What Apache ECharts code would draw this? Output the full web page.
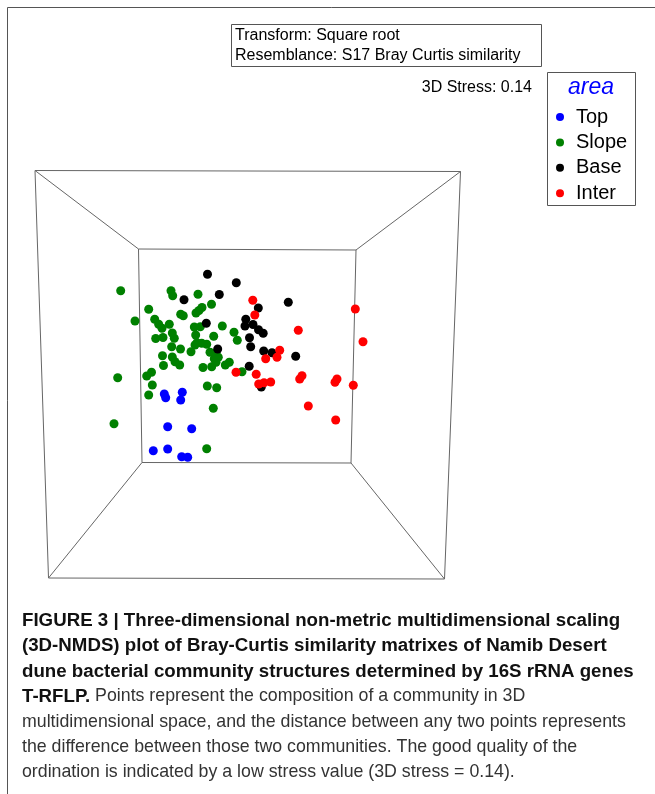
<!DOCTYPE html>
<html>
<head>
<meta charset="utf-8">
<script src="https://cdn.jsdelivr.net/npm/echarts@6/dist/echarts.min.js"></script>
<style>
html,body{margin:0;padding:0;background:#fff;}
#chart{width:655px;height:794px;}
</style>
</head>
<body>
<div id="chart"></div>
<script>
// ---- data (projected NMDS positions) ----
const categories = ['Top', 'Slope', 'Base', 'Inter'];
const colors = ['#0000ff', '#008000', '#000000', '#ff0000'];

const topPts = [[164.3,394],[165.7,397.7],[182.3,392.3],[180.7,400],[167.7,426.7],[191.7,428.7],[153.3,450.7],[167.7,449],[181.7,456.7],[187.7,457.3]];

const slopePts = [[120.7,290.7],[171,290.7],[172.7,295.7],[198,294.3],[211.5,304.3],[148.7,309.3],[135,321],
 [180.7,314.3],[183.3,315.7],[196,313],[199,310.5],[202,307.5],[154.7,319.3],[158.7,324.3],[162,328.3],
 [169.3,324.3],[194.3,327],[200.3,326.7],[222.3,326],[234,332.3],[237.3,340.3],[155.7,338.5],[163,337.5],
 [172.3,333],[174.3,338.3],[195.7,335],[197,342.7],[213.7,336.3],[171.7,346.7],[180.5,349],[191,351.7],
 [195,345],[201.7,343.3],[206.7,344.3],[210,352.3],[216,353],[218.3,357.3],[162.5,355.7],[172.3,357],[175,361.7],
 [179.7,365],[214.3,358.7],[216,362.3],[163.5,365.5],[203,367.5],[211.7,366.7],[225.3,365],[229.3,362.3],
 [242,371.7],[151.5,372.3],[146.7,376],[117.7,377.7],[152.3,385],[207.3,386],[216.7,387.7],[148.7,395],
 [213.3,408.3],[114,423.7],[206.7,448.7]];

const basePts = [[207.5,274.3],[236.3,282.7],[219.3,294.5],[184,299.7],[288.3,302.3],[258.3,308],[206.3,323.2],
 [245.8,319.3],[245,326],[253,324.5],[258.5,329.8],[263.2,333.2],[249.5,337.8],[250.7,346.8],[217.7,349],
 [263.7,351],[272,352.7],[295.7,356.3],[249.2,366.2],[261.3,387]];

const interPts = [[252.8,300.2],[254.8,315],[298.3,330.3],[355.3,309],[363,341.7],[279.7,350.3],[265.7,358.8],
 [277,357.3],[236,372.2],[256.2,374.2],[258.7,384],[264,382.7],[270.7,382],[299.7,379],[302,375.7],[335,382.3],
 [337,379],[353.3,385.3],[308.3,406],[335.7,420]];

// 3D bounding box corners (projection): TL, TR, BR, BL
const boxOuter = [[35,170.5],[460.5,171.5],[444.5,579],[48.5,578]];
const boxInner = [[138.5,249],[356,250],[351,463],[142,462.5]];

const annotLines = ['Transform: Square root', 'Resemblance: S17 Bray Curtis similarity'];
const stressLabel = '3D Stress: 0.14';
const legendTitle = 'area';

const captionBold = [
 'FIGURE 3 | Three-dimensional non-metric multidimensional scaling',
 '(3D-NMDS) plot of Bray-Curtis similarity matrixes of Namib Desert',
 'dune bacterial community structures determined by 16S rRNA genes'
];
const captionLead = 'T-RFLP.';
const captionRest = [
 ' Points represent the composition of a community in 3D',
 'multidimensional space, and the distance between any two points represents',
 'the difference between those two communities. The good quality of the',
 'ordination is indicated by a low stress value (3D stress = 0.14).'
];

// ---- layout helpers ----
const FONT = '"Liberation Sans", Arial, sans-serif';
const mctx = document.createElement('canvas').getContext('2d');
function fitSize(text, weight, target) {
  mctx.font = weight + ' 100px ' + FONT;
  return 100 * target / mctx.measureText(text).width;
}
const boldSize = fitSize(captionBold[0], 'bold', 599);
const regSize = fitSize(captionRest[1], 'normal', 604);

const chart = echarts.init(document.getElementById('chart'));

const series = [];
function seg(a, b) {
  series.push({type: 'line', data: [a, b], symbol: 'none', silent: true, z: 1,
    lineStyle: {color: '#666', width: 1}, animation: false});
}
for (let i = 0; i < 4; i++) {
  seg(boxOuter[i], boxOuter[(i + 1) % 4]);
  seg(boxInner[i], boxInner[(i + 1) % 4]);
  seg(boxOuter[i], boxInner[i]);
}
const ptsets = [topPts, slopePts, basePts, interPts];
categories.forEach((c, i) => {
  series.push({name: c, type: 'scatter', data: ptsets[i], symbolSize: 9, z: 3,
    itemStyle: {color: colors[i], opacity: 1}, animation: false});
});

const capX = 22, capY0 = 621, capStep = 25.2;
const graphics = [
  // outer figure frame
  {type: 'line', shape: {x1: 7.5, y1: 7.5, x2: 655, y2: 7.5}, style: {stroke: '#555', lineWidth: 1}},
  {type: 'line', shape: {x1: 7.5, y1: 7.5, x2: 7.5, y2: 794}, style: {stroke: '#555', lineWidth: 1}},
  // annotation box
  {type: 'rect', shape: {x: 231.5, y: 24.5, width: 310, height: 42}, style: {fill: '#fff', stroke: '#555', lineWidth: 1}},
  {type: 'text', x: 235, y: 36, style: {text: annotLines[0], font: '16px ' + FONT, fill: '#000', textVerticalAlign: 'middle'}},
  {type: 'text', x: 235, y: 55.5, style: {text: annotLines[1], font: '16px ' + FONT, fill: '#000', textVerticalAlign: 'middle'}},
  {type: 'text', x: 532, y: 88, style: {text: stressLabel, font: '16px ' + FONT, fill: '#000', textAlign: 'right', textVerticalAlign: 'middle'}},
  // legend frame + title
  {type: 'rect', shape: {x: 547.5, y: 72.5, width: 88, height: 133}, style: {fill: 'none', stroke: '#555', lineWidth: 1}},
  {type: 'text', x: 591, y: 88, style: {text: legendTitle, font: 'italic 23px ' + FONT, fill: '#0000ff', textAlign: 'center', textVerticalAlign: 'middle'}}
];
captionBold.forEach((t, i) => {
  graphics.push({type: 'text', x: capX, y: capY0 + capStep * i,
    style: {text: t, font: 'bold ' + boldSize.toFixed(2) + 'px ' + FONT, fill: '#111', textVerticalAlign: 'middle'}});
});
graphics.push({type: 'text', x: capX, y: capY0 + capStep * 3,
  style: {text: '{b|' + captionLead + '}{r|' + captionRest[0] + '}', textVerticalAlign: 'middle',
    rich: {b: {fontFamily: FONT, fontWeight: 'bold', fontSize: boldSize, fill: '#111'},
           r: {fontFamily: FONT, fontSize: regSize, fill: '#333'}}}});
for (let i = 1; i < captionRest.length; i++) {
  graphics.push({type: 'text', x: capX, y: capY0 + capStep * (3 + i),
    style: {text: captionRest[i], font: regSize.toFixed(2) + 'px ' + FONT, fill: '#333', textVerticalAlign: 'middle'}});
}

chart.setOption({
  animation: false,
  backgroundColor: '#fff',
  grid: {left: 0, top: 0, right: 0, bottom: 0},
  xAxis: {type: 'value', min: 0, max: 655, show: false},
  yAxis: {type: 'value', min: 0, max: 794, inverse: true, show: false},
  legend: {
    data: categories, orient: 'vertical', left: 551, top: 102,
    icon: 'circle', itemWidth: 8, itemHeight: 8, itemGap: 5.4,
    textStyle: {fontFamily: FONT, fontSize: 20, color: '#000', lineHeight: 20, padding: [0, 0, 0, 7]},
    selectedMode: false
  },
  series: series,
  graphic: graphics
});
</script>
</body>
</html>
